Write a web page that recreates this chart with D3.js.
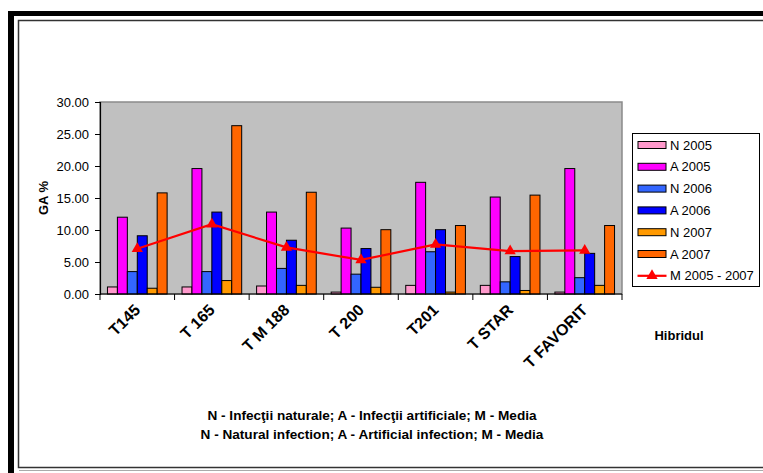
<!DOCTYPE html>
<html>
<head>
<meta charset="utf-8">
<script src="https://cdn.jsdelivr.net/npm/d3@7/dist/d3.min.js"></script>
<style>
  html, body { margin: 0; padding: 0; background: #fff; }
  svg { display: block; font-family: "Liberation Sans", Arial, sans-serif; }
</style>
</head>
<body>
<svg id="chart" width="763" height="473"></svg>
<script>
// Hybrids (x categories)
const categories = ["T145", "T 165", "T M 188", "T 200", "T201", "T STAR", "T FAVORIT"];

// GA % per series
const n2005 = [1.1, 1.1, 1.25, 0.3, 1.35, 1.35, 0.3];
const a2005 = [12.0, 19.6, 12.8, 10.3, 17.45, 15.15, 19.6];
const n2006 = [3.5, 3.5, 4.0, 3.1, 6.6, 1.9, 2.55];
const a2006 = [9.1, 12.8, 8.4, 7.1, 10.05, 5.85, 6.35];
const n2007 = [0.9, 2.1, 1.35, 1.05, 0.3, 0.55, 1.35];
const a2007 = [15.8, 26.3, 15.9, 10.05, 10.7, 15.45, 10.7];
const mean0507 = [7.07, 10.9, 7.28, 5.32, 7.74, 6.7, 6.81];

const seriesNames = ["N 2005", "A 2005", "N 2006", "A 2006", "N 2007", "A 2007"];
const lineName = "M 2005 - 2007";
const yTicks = [0, 5, 10, 15, 20, 25, 30];

const colors = ["#FF99CC", "#FF00FF", "#3366FF", "#0000FF", "#FF9900", "#FF6600"];
const barSeries = [n2005, a2005, n2006, a2006, n2007, a2007];

const svg = d3.select("#chart");

// ---- outer frame ----
svg.append("rect").attr("x", 8).attr("y", 11).attr("width", 755).attr("height", 5).attr("fill", "#000");
svg.append("rect").attr("x", 8).attr("y", 11).attr("width", 6).attr("height", 462).attr("fill", "#000");
svg.append("rect").attr("x", 18.5).attr("y", 20.5).attr("width", 760).attr("height", 447)
  .attr("fill", "none").attr("stroke", "#333").attr("stroke-width", 1.5);
svg.append("line").attr("x1", 19).attr("x2", 763).attr("y1", 470.5).attr("y2", 470.5)
  .attr("stroke", "#aaa").attr("stroke-width", 1);

// ---- plot area ----
const plot = { left: 100, right: 622, top: 102, bottom: 294 };

const x = d3.scaleBand().domain(categories).range([plot.left, plot.right]).paddingInner(0).paddingOuter(0);
const xs = d3.scaleBand().domain(seriesNames).range([0, x.bandwidth()]).paddingInner(0).paddingOuter(0.75);
const y = d3.scaleLinear().domain([0, 30]).range([plot.bottom, plot.top]);

svg.append("rect")
  .attr("x", plot.left).attr("y", plot.top)
  .attr("width", plot.right - plot.left).attr("height", plot.bottom - plot.top)
  .attr("fill", "#C0C0C0").attr("stroke", "#8a8a8a").attr("stroke-width", 1.5);

// bars
const g = svg.append("g");
barSeries.forEach((vals, si) => {
  g.selectAll(null)
    .data(vals.map((v, i) => ({ v, c: categories[i] })))
    .enter().append("rect")
    .attr("x", d => x(d.c) + xs(seriesNames[si]))
    .attr("y", d => y(d.v))
    .attr("width", xs.bandwidth())
    .attr("height", d => y(0) - y(d.v))
    .attr("fill", colors[si])
    .attr("stroke", "#000")
    .attr("stroke-width", 1);
});

// mean line with triangle markers
const lineData = mean0507.map((v, i) => ({ v, c: categories[i] }));
const line = d3.line().x(d => x(d.c) + x.bandwidth() / 2).y(d => y(d.v));
svg.append("path").datum(lineData)
  .attr("d", line).attr("fill", "none").attr("stroke", "#FF0000").attr("stroke-width", 2.2);
const tri = d3.symbol().type(d3.symbolTriangle).size(55);
svg.selectAll(".tri").data(lineData).enter().append("path")
  .attr("class", "tri")
  .attr("d", tri)
  .attr("transform", d => `translate(${x(d.c) + x.bandwidth() / 2},${y(d.v)})`)
  .attr("fill", "#FF0000");

// y axis
const yAxis = svg.append("g")
  .attr("transform", `translate(${plot.left},0)`)
  .call(d3.axisLeft(y).tickValues(yTicks).tickFormat(d3.format(".2f")).tickSize(5).tickPadding(6));
yAxis.select(".domain").attr("stroke", "#000").attr("stroke-width", 1.2);
yAxis.selectAll(".tick line").attr("stroke", "#000");
yAxis.selectAll("text").attr("font-size", 13).attr("fill", "#000")
  .attr("font-family", "Liberation Sans, Arial, sans-serif");

// x axis: line with ticks at category boundaries
const xAxisG = svg.append("g");
xAxisG.append("line").attr("x1", plot.left).attr("x2", plot.right)
  .attr("y1", plot.bottom).attr("y2", plot.bottom).attr("stroke", "#000").attr("stroke-width", 1.2);
const bounds = categories.map(c => x(c)).concat([plot.right]);
xAxisG.selectAll(".xt").data(bounds).enter().append("line")
  .attr("x1", d => d).attr("x2", d => d)
  .attr("y1", plot.bottom).attr("y2", plot.bottom + 6)
  .attr("stroke", "#000");
xAxisG.selectAll(".xl").data(categories).enter().append("text")
  .attr("transform", c => `translate(${x(c) + x.bandwidth() / 2 + 4},${plot.bottom + 17}) rotate(-45)`)
  .attr("text-anchor", "end")
  .attr("font-size", 16).attr("font-weight", "bold")
  .text(c => c);

// axis titles
svg.append("text")
  .attr("transform", `translate(${48},${(plot.top + plot.bottom) / 2}) rotate(-90)`)
  .attr("text-anchor", "middle").attr("font-size", 13).attr("font-weight", "bold")
  .text("GA %");
svg.append("text")
  .attr("x", 679).attr("y", 340)
  .attr("text-anchor", "middle").attr("font-size", 13).attr("font-weight", "bold")
  .text("Hibridul");

// legend
const lg = svg.append("g").attr("transform", "translate(632.5,133.5)");
lg.append("rect").attr("width", 127).attr("height", 153)
  .attr("fill", "#fff").attr("stroke", "#000").attr("stroke-width", 1);
const rowY = i => 11.5 + i * 21.8;
seriesNames.forEach((name, i) => {
  lg.append("rect").attr("x", 5.5).attr("y", rowY(i) - 3.5).attr("width", 28).attr("height", 7)
    .attr("fill", colors[i]).attr("stroke", "#000").attr("stroke-width", 1);
  lg.append("text").attr("x", 37.5).attr("y", rowY(i) + 4.5)
    .attr("font-size", 13).text(name);
});
lg.append("line").attr("x1", 5).attr("x2", 34).attr("y1", rowY(6)).attr("y2", rowY(6))
  .attr("stroke", "#FF0000").attr("stroke-width", 2.2);
lg.append("path").attr("d", tri).attr("transform", `translate(19.5,${rowY(6)})`).attr("fill", "#FF0000");
lg.append("text").attr("x", 37.5).attr("y", rowY(6) + 4.5).attr("font-size", 13).text(lineName);

// footnote
const notes = [
  "N - Infecţii naturale; A - Infecţii artificiale; M - Media",
  "N - Natural infection; A - Artificial infection; M - Media"
];
svg.selectAll(".note").data(notes).enter().append("text")
  .attr("x", 372).attr("y", (d, i) => 420 + i * 19.3)
  .attr("text-anchor", "middle").attr("font-size", 13.6).attr("font-weight", "bold")
  .text(d => d);
</script>
</body>
</html>
